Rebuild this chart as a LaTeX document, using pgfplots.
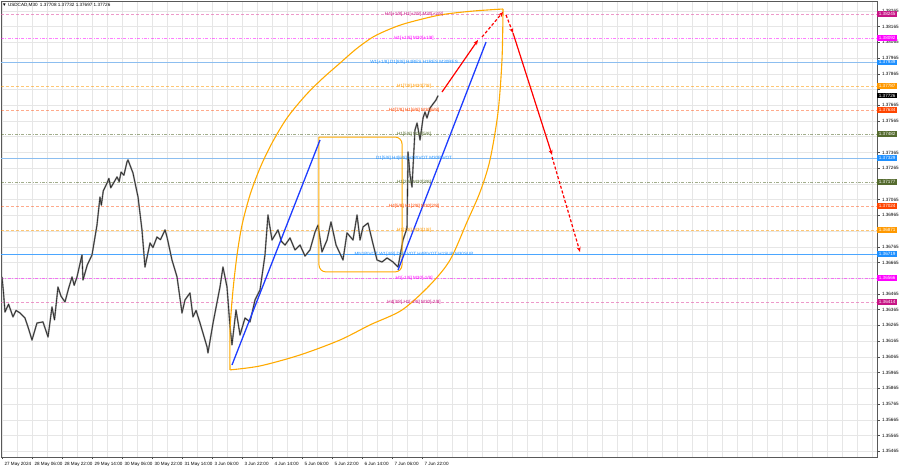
\documentclass[border=0pt]{standalone}
\usepackage{pgfplots}
\pgfplotsset{compat=1.18}
\usepackage{pgfplotstable}
\usepackage{fontspec}
\setmainfont{Liberation Sans}
\usetikzlibrary{arrows.meta}

\definecolor{mvred}{RGB}{199,21,133}
\definecolor{pinkln}{RGB}{230,110,180}
\definecolor{mag}{RGB}{255,0,255}
\definecolor{dblue}{RGB}{30,144,255}
\definecolor{lblue}{RGB}{140,190,240}
\definecolor{orng}{RGB}{255,153,0}
\definecolor{ored}{RGB}{255,69,0}
\definecolor{olive}{RGB}{85,107,47}
\definecolor{trendblue}{RGB}{30,60,255}
\definecolor{arcorange}{RGB}{255,170,0}
\definecolor{gridc}{RGB}{230,230,230}

\newcommand\lf{\fontsize{4.6}{5.5}\selectfont}

% M30 bars (index) and close prices
\pgfplotstableread{
b p
0 1.36573
1.5 1.36480
3.2 1.36350
7 1.36400
11.7 1.36319
15 1.36360
19.2 1.36344
24.5 1.36312
28 1.36250
32 1.36172
37.3 1.36280
43.7 1.36287
49.1 1.36191
53.3 1.36382
56 1.36300
59.7 1.36509
63 1.36450
67.2 1.36414
71 1.36500
74.7 1.36573
77 1.36520
80 1.36573
85.3 1.36713
86.4 1.36554
91 1.36650
96 1.36713
101.3 1.36903
104.5 1.37081
106 1.37030
108 1.37120
112 1.37170
114 1.37200
116 1.37140
117 1.37150
122.7 1.37209
125 1.37180
127 1.37240
130 1.37220
133.3 1.37304
134.4 1.37317
139.7 1.37234
145.1 1.37081
149.3 1.36872
152.5 1.36636
157.9 1.36789
161 1.36760
165.3 1.36827
169 1.36810
173.9 1.36872
176 1.36827
181.3 1.36681
186.7 1.36573
192 1.36344
195.2 1.36427
200.5 1.36471
203.7 1.36319
207 1.36360
211.2 1.36280
218.7 1.36128
219.7 1.36090
225.1 1.36280
232.5 1.36509
235.7 1.36636
240 1.36509
243.2 1.36255
245.3 1.36141
249.6 1.36363
253.9 1.36204
259.2 1.36312
264.5 1.36287
269.9 1.36427
275.2 1.36490
280.5 1.36713
283.7 1.36967
288 1.36808
294.4 1.36872
298 1.36800
301.9 1.36776
307.2 1.36821
312.5 1.36745
317.9 1.36776
323.2 1.36706
328.5 1.36745
333.9 1.36859
337.1 1.36903
341.3 1.36732
346.7 1.36808
350.9 1.36923
356.3 1.36776
363.7 1.36681
368 1.36853
374.4 1.36808
378.7 1.36967
381.9 1.36808
385.1 1.36891
390.4 1.36916
394.7 1.36808
400 1.36681
405.3 1.36668
410.7 1.36694
417.1 1.36668
422.4 1.36636
427.7 1.36808
432 1.36884
433.1 1.37368
435.2 1.37221
437.3 1.37145
440.5 1.37508
442.7 1.37552
445.9 1.37444
449.1 1.37584
451.2 1.37622
453.3 1.37584
456.5 1.37647
459.7 1.37673
462.9 1.37698
465.1 1.37726
}\pricedata

\begin{document}
\begin{tikzpicture}
\useasboundingbox (0,0) rectangle (900pt,468pt);
\begin{axis}[
  at={(1pt,11pt)}, anchor=south west,
  scale only axis, width=876pt, height=456pt,
  xmin=-1.07, xmax=933.3,
  ymin=1.35428, ymax=1.38328,
  clip mode=individual,
  axis line style={black!65, line width=0.6pt},
  xtick={0,32,...,448},
  xticklabels={27 May 2024,28 May 06:00,28 May 22:00,29 May 14:00,30 May 06:00,30 May 22:00,31 May 14:00,3 Jun 06:00,3 Jun 22:00,4 Jun 14:00,5 Jun 06:00,5 Jun 22:00,6 Jun 14:00,7 Jun 06:00,7 Jun 22:00},
  minor xtick={16,32,...,928},
  ytick={1.35465,1.35565,1.35665,1.35765,1.35865,1.35965,1.36065,1.36165,1.36265,1.36365,1.36465,1.36565,1.36665,1.36765,1.36865,1.36965,1.37065,1.37165,1.37265,1.37365,1.37465,1.37565,1.37665,1.37765,1.37865,1.37965,1.38065,1.38165,1.38265},
  yticklabels={1.35465,1.35565,1.35665,1.35765,1.35865,1.35965,1.36065,1.36165,1.36265,1.36365,1.36465,{},1.36665,1.36765,{},1.36965,1.37065,{},1.37265,1.37365,{},1.37565,1.37665,{},1.37865,1.37965,1.38065,1.38165,1.38265},
  yticklabel pos=right,
  xtick pos=left, ytick pos=right,
  tick align=outside, major tick length=2.5pt, minor tick length=0pt,
  tick style={black!70, line width=0.4pt},
  ymajorgrids, xminorgrids, xmajorgrids,
  grid style={gridc, line width=0.4pt},
  minor grid style={gridc, line width=0.4pt},
  yticklabel style={font=\lf, anchor=west, xshift=-1pt},
  xticklabel style={font=\lf, anchor=north west, xshift=-1pt, yshift=1pt},
]
% level lines
\addplot[pinkln, opacity=0.7, line width=0.5pt, dash pattern=on 3pt off 2pt] coordinates {(-1.07,1.38245) (933.3,1.38245)};
\addplot[mag, opacity=0.5, line width=0.5pt, dash pattern=on 3pt off 1.5pt on 0.8pt off 1.5pt] coordinates {(-1.07,1.38092) (933.3,1.38092)};
\addplot[lblue, line width=0.5pt] coordinates {(-1.07,1.37939) (933.3,1.37939)};
\addplot[orng, opacity=0.55, line width=0.5pt, dash pattern=on 3pt off 2pt] coordinates {(-1.07,1.37787) (933.3,1.37787)};
\addplot[ored, opacity=0.45, line width=0.5pt, dash pattern=on 3pt off 2pt] coordinates {(-1.07,1.37634) (933.3,1.37634)};
\addplot[olive, opacity=0.55, line width=0.5pt, dash pattern=on 3pt off 1.5pt on 0.8pt off 1.5pt] coordinates {(-1.07,1.37482) (933.3,1.37482)};
\addplot[lblue, line width=0.5pt] coordinates {(-1.07,1.37329) (933.3,1.37329)};
\addplot[olive, opacity=0.55, line width=0.5pt, dash pattern=on 3pt off 1.5pt on 0.8pt off 1.5pt] coordinates {(-1.07,1.37177) (933.3,1.37177)};
\addplot[ored, opacity=0.45, line width=0.5pt, dash pattern=on 3pt off 2pt] coordinates {(-1.07,1.37024) (933.3,1.37024)};
\addplot[orng, opacity=0.55, line width=0.5pt, dash pattern=on 3pt off 2pt] coordinates {(-1.07,1.36871) (933.3,1.36871)};
\addplot[dblue!80, line width=0.6pt] coordinates {(-1.07,1.36719) (933.3,1.36719)};
\addplot[mag, opacity=0.5, line width=0.5pt, dash pattern=on 3pt off 1.5pt on 0.8pt off 1.5pt] coordinates {(-1.07,1.36566) (933.3,1.36566)};
\addplot[pinkln, opacity=0.7, line width=0.5pt, dash pattern=on 3pt off 2pt] coordinates {(-1.07,1.36414) (933.3,1.36414)};

% price
\addplot[black!45, line width=1.6pt, line join=round] table[x=b, y=p] {\pricedata};
\addplot[black!85, line width=0.6pt, line join=round] table[x=b, y=p] {\pricedata};

% orange box
\addplot[arcorange, line width=1pt, rounded corners=7pt] coordinates {(338.1,1.37463) (426.7,1.37463) (426.7,1.36605) (338.1,1.36605) (338.1,1.37463)};

% blue trend lines
\addplot[trendblue, line width=1.3pt] coordinates {(245.3,1.36013) (339.2,1.37444)};
\addplot[trendblue, line width=1.3pt] coordinates {(422.4,1.36617) (516.3,1.38067)};

% orange arcs
\addplot[arcorange, line width=1.1pt, smooth] coordinates {(243.2,1.35982) (243.2,1.36236) (246.4,1.36490) (250.7,1.36713) (256,1.36903) (264.5,1.37094) (275.2,1.37266) (288,1.37425) (304,1.37584) (323.2,1.37724) (341.3,1.37832) (360.5,1.37933) (377.6,1.38022) (395.7,1.38099) (413.9,1.38150) (432,1.38188) (467.2,1.38239) (502.4,1.38264) (534.4,1.38277)};
\addplot[arcorange, line width=1.1pt, smooth] coordinates {(243.2,1.35982) (275.2,1.36007) (317.9,1.36077) (360.5,1.36172) (392.5,1.36268) (426.7,1.36363) (456.5,1.36522) (477.9,1.36681) (496,1.36923) (509.9,1.37113) (520.5,1.37317) (529.1,1.37622) (533.3,1.37953) (534.4,1.38277)};

% red projection arrows
\addplot[red, line width=1.2pt, -{Stealth[length=5pt,width=4pt]}] coordinates {(469.3,1.37749) (507.7,1.38080)};
\addplot[red, line width=1.2pt, dash pattern=on 3pt off 2pt, -{Stealth[length=5pt,width=4pt]}] coordinates {(512,1.38099) (534.4,1.38258)};
\addplot[red, line width=1.2pt, dash pattern=on 3pt off 2pt, -{Stealth[length=5pt,width=4pt]}] coordinates {(537.6,1.38239) (545.1,1.38124)};
\addplot[red, line width=1.2pt, -{Stealth[length=5pt,width=4pt]}] coordinates {(545.1,1.38124) (586.7,1.37349)};
\addplot[red, line width=1.2pt, dash pattern=on 3pt off 2pt, -{Stealth[length=5pt,width=4pt]}] coordinates {(586.7,1.37336) (616.5,1.36732)};

% level texts
\node[font=\lf, text=mvred] at (axis cs:439.5,1.38245) {H4[+1/8] H1[+2/8] M30[+2/8]};
\node[font=\lf, text=mag] at (axis cs:439.5,1.38092) {H1[+1/8] M30[+1/8]};
\node[font=\lf, text=dblue] at (axis cs:439.5,1.37939) {W1[+1/8] D1[8/8] H4RES H1RES M30RES};
\node[font=\lf, text=orng] at (axis cs:439.5,1.37787) {H1[7/8] M30[7/8]};
\node[font=\lf, text=ored] at (axis cs:439.5,1.37634) {H4[7/8] H1[6/8] M30[6/8]};
\node[font=\lf, text=olive] at (axis cs:439.5,1.37482) {H1[5/8] M30[5/8]};
\node[font=\lf, text=dblue] at (axis cs:439.5,1.37329) {D1[5/8] H4[6/8] H1PIVOT M30PIVOT};
\node[font=\lf, text=olive] at (axis cs:439.5,1.37177) {H1[3/8] M30[3/8]};
\node[font=\lf, text=ored] at (axis cs:439.5,1.37024) {H4[5/8] H1[2/8] M30[2/8]};
\node[font=\lf, text=orng] at (axis cs:439.5,1.36871) {H1[1/8] M30[1/8]};
\node[font=\lf, text=dblue] at (axis cs:439.5,1.36719) {MN1PIVOT W1[4/8] D1PIVOT H4PIVOT H1SUP M30SUP};
\node[font=\lf, text=mag] at (axis cs:439.5,1.36566) {H1[-1/8] M30[-1/8]};
\node[font=\lf, text=mvred] at (axis cs:439.5,1.36414) {H4[3/8] H1[-2/8] M30[-2/8]};

% price tags on the right scale
\tikzset{tag/.style={font=\lf, text=white, anchor=west, inner xsep=1pt, inner ysep=1pt, minimum width=20pt}}
\node[tag, fill=mvred] at (axis cs:933.3,1.38245) {1.38245};
\node[tag, fill=mag] at (axis cs:933.3,1.38092) {1.38092};
\node[tag, fill=dblue] at (axis cs:933.3,1.37939) {1.37939};
\node[tag, fill=orng] at (axis cs:933.3,1.37787) {1.37787};
\node[tag, fill=black] at (axis cs:933.3,1.37726) {1.37726};
\node[tag, fill=ored] at (axis cs:933.3,1.37634) {1.37634};
\node[tag, fill=olive] at (axis cs:933.3,1.37482) {1.37482};
\node[tag, fill=dblue] at (axis cs:933.3,1.37329) {1.37329};
\node[tag, fill=olive] at (axis cs:933.3,1.37177) {1.37177};
\node[tag, fill=ored] at (axis cs:933.3,1.37024) {1.37024};
\node[tag, fill=orng] at (axis cs:933.3,1.36871) {1.36871};
\node[tag, fill=dblue] at (axis cs:933.3,1.36719) {1.36719};
\node[tag, fill=mag] at (axis cs:933.3,1.36566) {1.36566};
\node[tag, fill=mvred] at (axis cs:933.3,1.36414) {1.36414};

% title
\node[font=\lf, anchor=north west, inner sep=1pt] at (axis cs:-1.07,1.38322) {▼ USDCAD,M30\enspace 1.37708 1.37732 1.37697 1.37726};
\end{axis}
\end{tikzpicture}
\end{document}
